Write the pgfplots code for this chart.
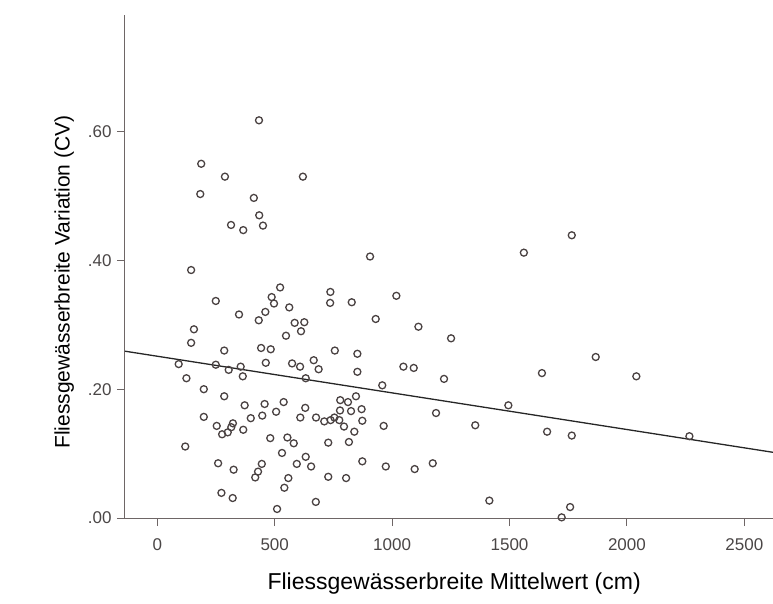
\documentclass[border=0pt]{standalone}
\usepackage{fontspec}
\setmainfont{Liberation Sans}
\usepackage{graphicx}
\usepackage{pgfplots}
\pgfplotsset{compat=1.18}
\definecolor{markc}{HTML}{4A4242}
\definecolor{axc}{HTML}{6E6666}
\definecolor{tickc}{HTML}{4A4646}
\newcommand{\tl}[1]{{\fontsize{17}{19}\selectfont #1}}
\begin{document}
\begin{tikzpicture}
\begin{axis}[
  scale only axis, width=648pt, height=503pt,
  xmin=-137.6, xmax=2622, ymin=0, ymax=0.781,
  axis x line*=bottom, axis y line*=left,
  axis line style={color=axc, line width=1pt},
  every outer x axis line/.append style={-}, every outer y axis line/.append style={-},
  tick align=outside, major tick length=8pt,
  every tick/.style={color=axc, line width=1pt},
  xtick={0,500,1000,1500,2000,2500},
  xticklabels={\tl{0},\tl{500},\tl{1000},\tl{1500},\tl{2000},\tl{2500}},
  ytick={0,0.2,0.4,0.6},
  yticklabels={\tl{.00},\tl{.20},\tl{.40},\tl{.60}},
  ticklabel style={text=tickc},
  xticklabel style={anchor=north, yshift=-9pt},
  yticklabel style={anchor=east, xshift=-2pt},
  xlabel={\fontsize{23}{27}\selectfont Fliessgewässerbreite Mittelwert (cm)},
  ylabel={\fontsize{21}{25}\selectfont Fliessgewässerbreite Variation (CV)},
  every axis x label/.style={at={(axis description cs:0.508,-0.143)}, anchor=base, text=black},
  every axis y label/.style={at={(axis description cs:-0.094,0.469)}, rotate=90, anchor=center, text=black},
  clip=false,
]
\addplot[only marks, mark=o, mark size=3.5pt, mark options={draw=markc, line width=1.3pt}] coordinates {
(433,0.6175) (187,0.550) (288,0.530) (620,0.530) (183,0.503) (411,0.497) (434,0.470)
(314,0.455) (366,0.447) (450,0.454) (144,0.385) (523,0.358) (737,0.351) (487,0.343)
(249,0.337) (497,0.333) (562,0.327) (736,0.334) (348,0.316) (460,0.320) (432,0.307)
(585,0.303) (626,0.304) (612,0.290) (156,0.293) (548,0.283) (144,0.272) (285,0.260)
(442,0.264) (483,0.262) (756,0.260) (91,0.239) (249,0.238) (304,0.230) (355,0.235)
(462,0.241) (574,0.240) (608,0.235) (666,0.245) (687,0.231) (364,0.220) (632,0.217)
(124,0.217) (198,0.200) (285,0.189) (372,0.175) (457,0.177) (538,0.180) (506,0.165)
(630,0.171) (609,0.156) (398,0.155) (447,0.159) (198,0.157) (676,0.156) (711,0.150)
(738,0.152) (754,0.156) (775,0.152) (779,0.183) (253,0.143) (315,0.141) (322,0.147)
(276,0.130) (300,0.133) (366,0.137) (481,0.124) (554,0.125) (581,0.116) (728,0.117)
(119,0.111) (531,0.101) (259,0.085) (632,0.095) (594,0.084) (655,0.080) (325,0.075)
(445,0.084) (429,0.072) (417,0.063) (558,0.062) (541,0.047) (728,0.064) (273,0.039)
(321,0.031) (675,0.025) (510,0.014)
(828,0.335) (1018,0.345) (930,0.309) (1112,0.297) (1251,0.279) (852,0.255) (852,0.227)
(1048,0.235) (1092,0.233) (1221,0.216) (958,0.206) (1638,0.225) (1495,0.175) (1187,0.163)
(1354,0.144) (964,0.143) (1660,0.134) (812,0.180) (846,0.189) (870,0.169) (825,0.166)
(778,0.167) (795,0.142) (873,0.151) (839,0.134) (816,0.118) (873,0.088) (973,0.080)
(1096,0.076) (1173,0.085) (804,0.062) (1414,0.027)
(906,0.406) (1561,0.412) (1765,0.439) (1867,0.250) (2040,0.220) (1765,0.128) (2266,0.127)
(1758,0.017) (1722,0.001)
};
\addplot[color=black!85, line width=1.3pt] coordinates {(-137.6,0.259) (2622,0.102)};
\end{axis}
\pgfresetboundingbox
\path (-125pt,-85pt) rectangle (648pt,518pt);
\end{tikzpicture}
\end{document}
